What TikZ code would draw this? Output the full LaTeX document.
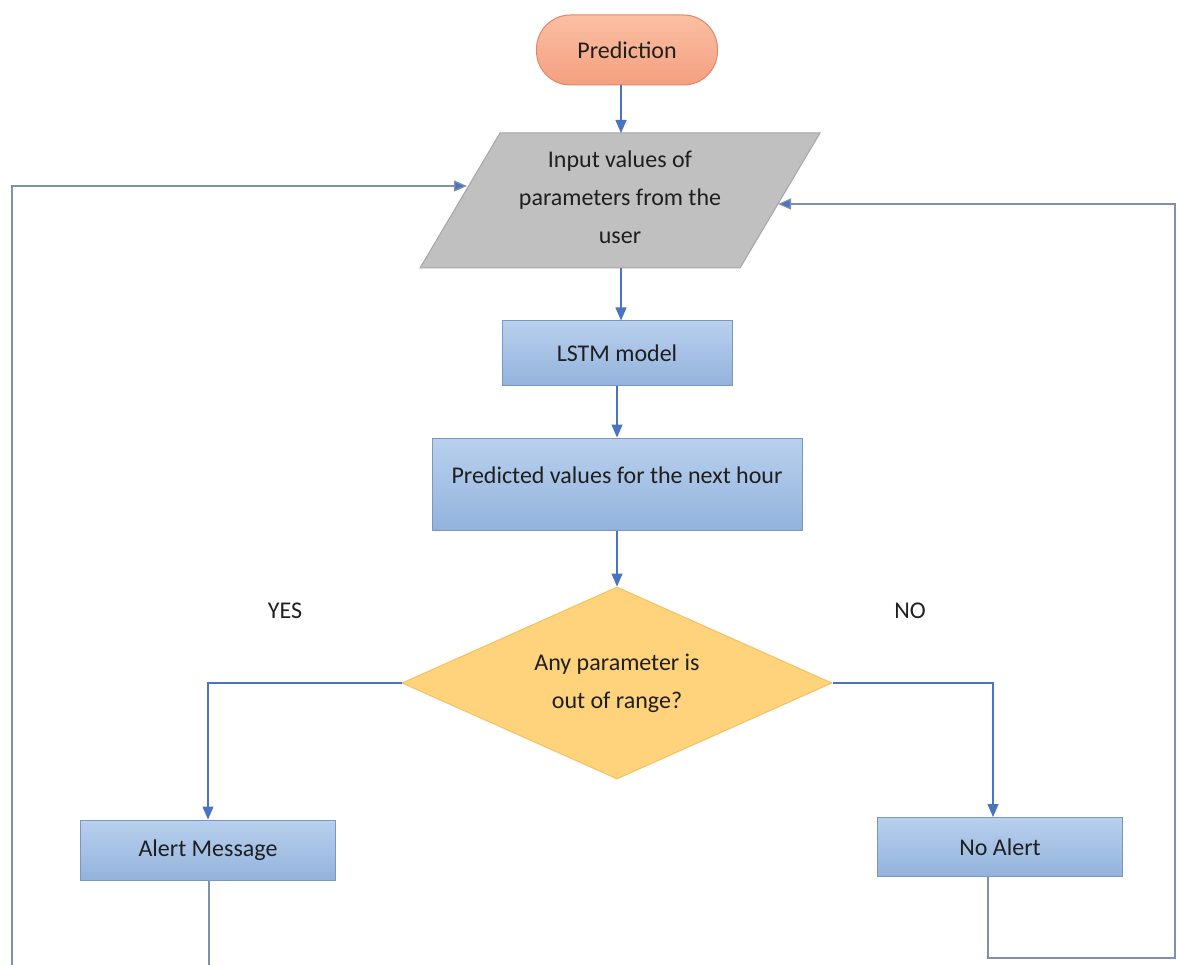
\documentclass[tikz,border=0pt]{standalone}
\usepackage{fontspec}
\setmainfont{Carlito}
\usetikzlibrary{shapes.geometric,arrows.meta}
\definecolor{arrblue}{HTML}{4A74C0}
\definecolor{loopcol}{HTML}{7D90AE}
\definecolor{boxtop}{HTML}{B9D0EE}
\definecolor{boxbot}{HTML}{93B3DC}
\definecolor{boxline}{HTML}{7898C2}
\definecolor{predtop}{HTML}{FBBFA3}
\definecolor{predbot}{HTML}{F4A07F}
\definecolor{predline}{HTML}{E0876A}
\definecolor{gfill}{HTML}{C0C0C0}
\definecolor{gline}{HTML}{A6A6A6}
\definecolor{dfill}{HTML}{FFD27C}
\definecolor{dline}{HTML}{F5C060}
\definecolor{txt}{HTML}{1F1F1F}
\tikzset{
  procbox/.style={rectangle, draw=boxline, line width=1pt, top color=boxtop, bottom color=boxbot, text=txt, inner sep=0pt},
  startbox/.style={rectangle, rounded corners=34pt, draw=predline, line width=1pt, top color=predtop, bottom color=predbot, text=txt, inner sep=0pt},
  decbox/.style={diamond, shape aspect=2.2, draw=dline, line width=1pt, fill=dfill, text=txt, inner sep=0pt, align=center},
  arr/.style={draw=arrblue, line width=1.2pt, -{Triangle[length=13pt,width=11pt]}, arrblue},
  plainline/.style={draw=loopcol, line width=1.3pt},
  looparr/.style={draw=loopcol, line width=1.3pt, -{Triangle[length=13pt,width=11pt,fill=arrblue]}},
  lbl/.style={text=txt}
}
\begin{document}
\begin{tikzpicture}[x=1pt,y=-1pt,font=\fontsize{24}{38}\selectfont]
\useasboundingbox[fill=white] (0,0) rectangle (1177,965);
% start
\node[startbox, minimum width=181pt, minimum height=70pt] (pred) at (627,50) {Prediction};
% input parallelogram
\path[fill=gfill, draw=gline, line width=1pt] (500,133) -- (820,133) -- (740,268) -- (420,268) -- cycle;
\node[align=center, text=txt, inner sep=0pt] (inp) at (620,197) {Input values of\\parameters from the\\user};
\coordinate (inTop) at (621,133);
\coordinate (inBot) at (621,268);
\coordinate (inL) at (467,186);
\coordinate (inR) at (778,204);
% process boxes
\node[procbox, minimum width=230pt, minimum height=64pt] (lstm) at (617,353) {LSTM model};
\node[procbox, minimum width=370pt, minimum height=92pt, text depth=18pt] (pv) at (617,484) {Predicted values for the next hour};
\node[decbox, minimum width=430pt, minimum height=192pt] (dec) at (617,683) {Any parameter is\\out of range?};
\node[procbox, minimum width=255pt, minimum height=60pt] (alert) at (208,850) {Alert Message};
\node[procbox, minimum width=245pt, minimum height=59pt] (noal) at (1000,847) {No Alert};
% labels
\node[lbl] (yes) at (285,611) {YES};
\node[lbl] (no) at (910,611) {NO};
% connectors
\draw[arr] (pred.south -| inTop) -- (inTop);
\draw[arr] (inBot) -- (inBot |- lstm.north);
\draw[arr] (lstm) -- (pv);
\draw[arr] (pv) -- (dec);
\draw[arr] (dec.west) -| (alert.north);
\draw[arr] (dec.east) -| ([xshift=-7pt]noal.north);
\coordinate (rb) at (1175,958);
\draw[looparr] ([xshift=-12pt]noal.south) |- (rb) |- (inR);
\coordinate (lb) at (12,965);
\draw[looparr] (lb) |- (inL);
\coordinate (ab) at (209,965);
\draw[plainline] (alert.south -| ab) -- (ab);
\end{tikzpicture}
\end{document}
